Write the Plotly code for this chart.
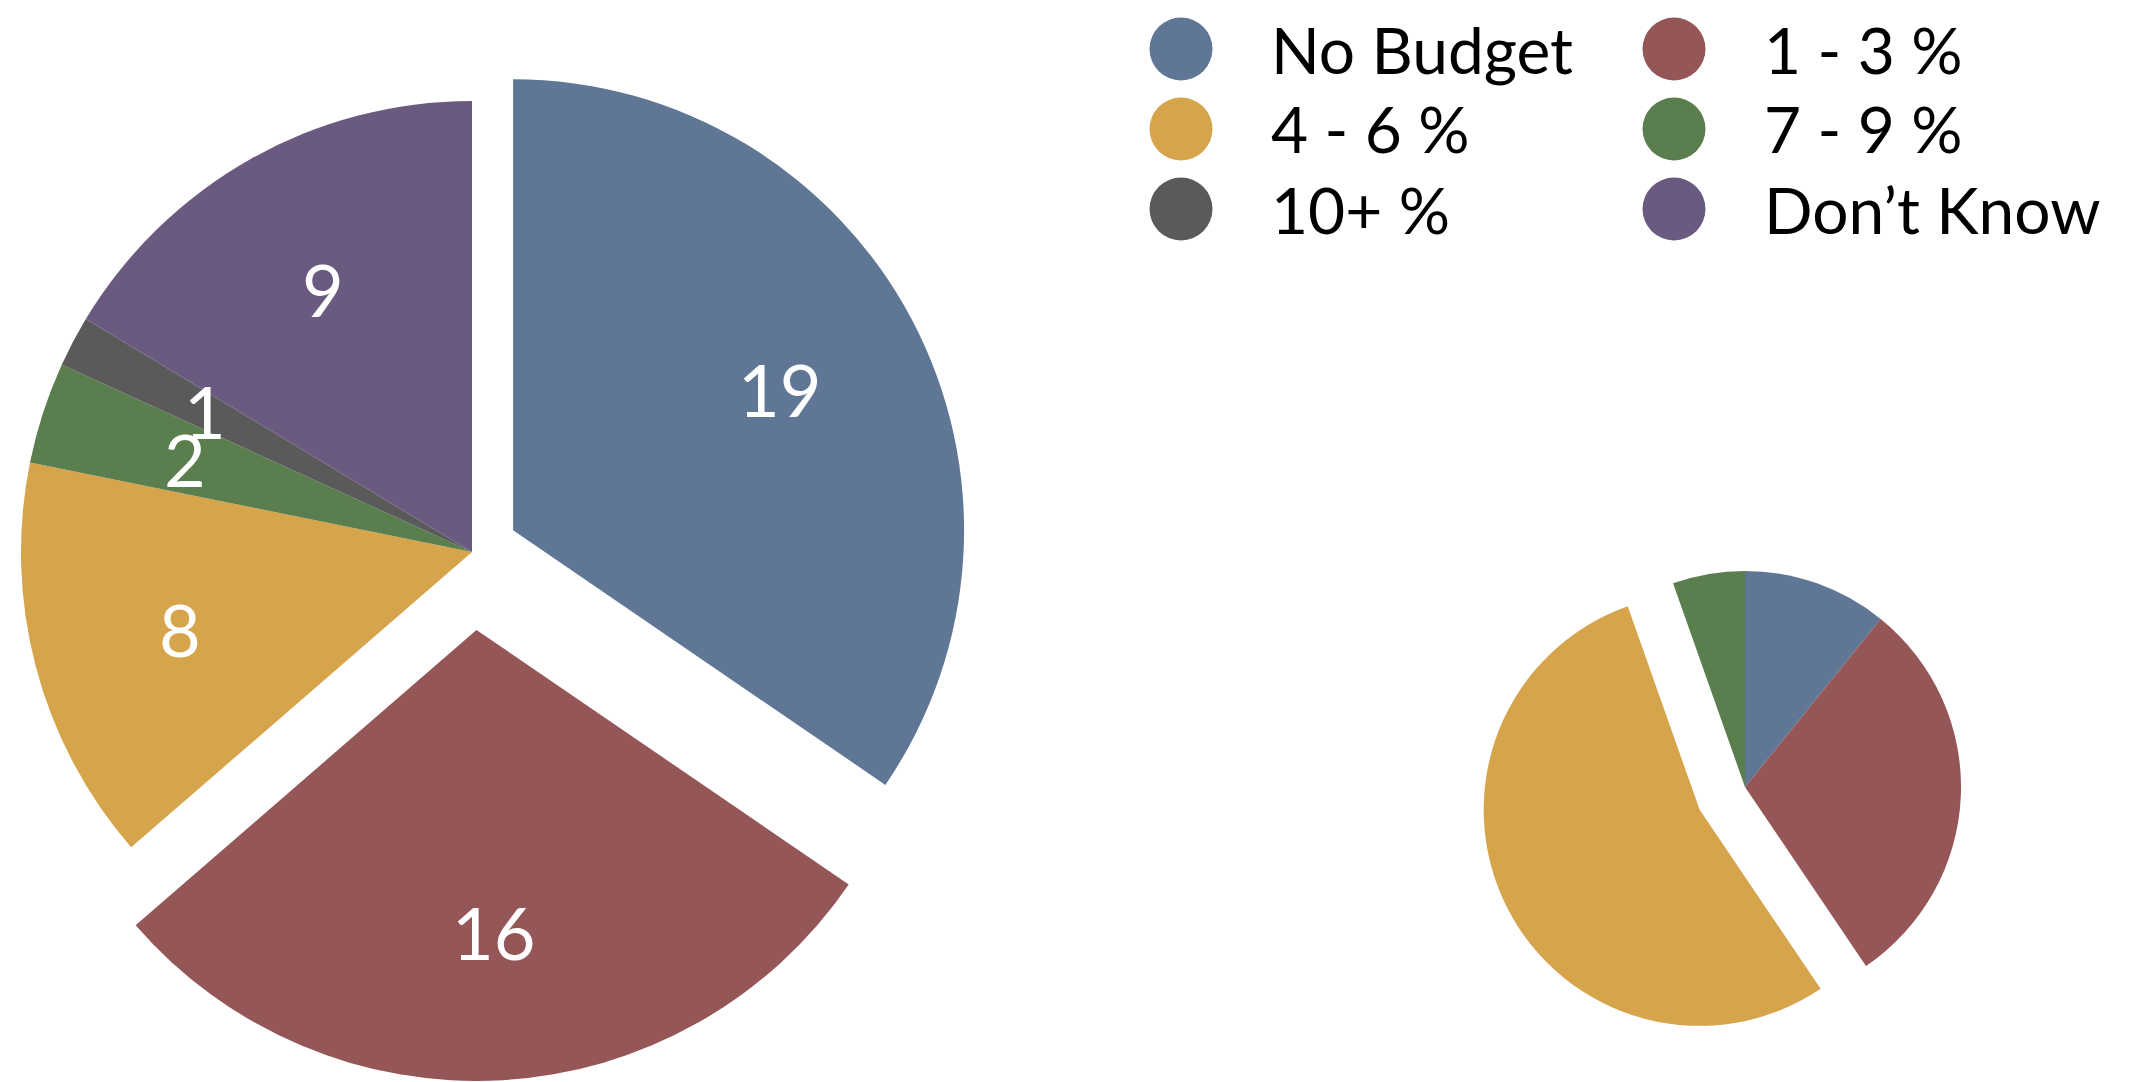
import numpy as np
import plotly.graph_objects as go

# ---------------- data ----------------
categories = ["No Budget", "1 - 3 %", "4 - 6 %", "7 - 9 %", "10+ %", "Don\u2019t Know"]
large_values = [19, 16, 8, 2, 1, 9]
small_values = [4, 11, 20, 2, 0, 0]

# ---------------- styles ----------------
colors = ["#5f7795", "#955658", "#d5a44b", "#5b7e4f", "#5a5a5a", "#6a5a80"]
large_pull = [0.103, 0.173, 0, 0, 0, 0]
small_pull = [0, 0, 0.235, 0, 0, 0]
FONT = "Lato"
W, H = 2129, 1082
PAGE_OFF = 8  # default browser body margin

# large pie geometry (page pixels)
L_CX, L_CY, L_R = 472 - PAGE_OFF, 552 - PAGE_OFF, 451
# small pie geometry (page pixels)
S_CX, S_CY, S_R = 1745 - PAGE_OFF, 787 - PAGE_OFF, 216


def dom(cx, cy, half):
    x0, x1 = (cx - half) / W, (cx + half) / W
    y0, y1 = 1 - (cy + half) / H, 1 - (cy - half) / H
    clip = lambda v: min(max(v, 0.0), 1.0)
    return dict(x=[clip(x0), clip(x1)], y=[clip(y0), clip(y1)])


def mid_angles(vals):
    v = np.asarray(vals, dtype=float)
    cum = np.cumsum(v) / v.sum() * 2 * np.pi
    start = cum - v / v.sum() * 2 * np.pi
    return (start + cum) / 2


fig = go.Figure()

# ---- large pie: base (unpulled slices) + separately offset pulled slices ----
mids = mid_angles(large_values)
groups = [[i for i, p in enumerate(large_pull) if p == 0]] + [[i] for i, p in enumerate(large_pull) if p > 0]
for grp in groups:
    pull = large_pull[grp[0]]
    ang = mids[grp[0]]
    cx = L_CX + pull * L_R * np.sin(ang)
    cy = L_CY - pull * L_R * np.cos(ang)
    cols = [colors[i] if i in grp else "rgba(0,0,0,0)" for i in range(len(categories))]
    fig.add_trace(go.Pie(
        labels=categories, values=large_values, sort=False, direction="clockwise",
        rotation=0, marker=dict(colors=cols, line=dict(width=0)),
        textinfo="none", hoverinfo="label+value", showlegend=False,
        domain=dom(cx, cy, L_R),
    ))

# value labels for large pie, positioned from the data angles
for i, v in enumerate(large_values):
    ang = mids[i]
    pull = large_pull[i]
    ax = L_CX + (pull + 0.67) * L_R * np.sin(ang)
    ay = L_CY - (pull + 0.67) * L_R * np.cos(ang)
    fig.add_annotation(
        x=ax / W, y=1 - ay / H, xref="paper", yref="paper", text=str(v),
        showarrow=False, xanchor="center", yanchor="middle",
        font=dict(family=FONT, size=72, color="white"),
    )

# ---- small pie ----
fig.add_trace(go.Pie(
    labels=categories, values=small_values, sort=False, direction="clockwise",
    rotation=0, pull=small_pull, marker=dict(colors=colors, line=dict(width=0)),
    textinfo="none", hoverinfo="label+value", showlegend=False,
    domain=dom(S_CX, S_CY, S_R * (1 + max(small_pull))),
))

# ---- legend (2 columns, circular swatches) ----
LEG_X0, LEG_Y0 = 1181 - PAGE_OFF, 49 - PAGE_OFF
COL_W, ROW_H, DOT_R, TXT_DX = 493, 80, 31.5, 88
for i, (name, c) in enumerate(zip(categories, colors)):
    col, row = i % 2, i // 2
    cx = LEG_X0 + col * COL_W
    cy = LEG_Y0 + row * ROW_H
    fig.add_shape(
        type="circle", xref="paper", yref="paper",
        x0=(cx - DOT_R) / W, x1=(cx + DOT_R) / W,
        y0=1 - (cy + DOT_R) / H, y1=1 - (cy - DOT_R) / H,
        fillcolor=c, line=dict(width=0),
    )
    fig.add_annotation(
        x=(cx + TXT_DX) / W, y=1 - cy / H, xref="paper", yref="paper",
        text=name, showarrow=False, xanchor="left", yanchor="middle",
        font=dict(family=FONT, size=64, color="black"),
    )

fig.update_layout(
    width=W, height=H,
    margin=dict(l=0, r=0, t=0, b=0),
    paper_bgcolor="white", plot_bgcolor="white",
    showlegend=False,
)

fig.write_html("out.html")
